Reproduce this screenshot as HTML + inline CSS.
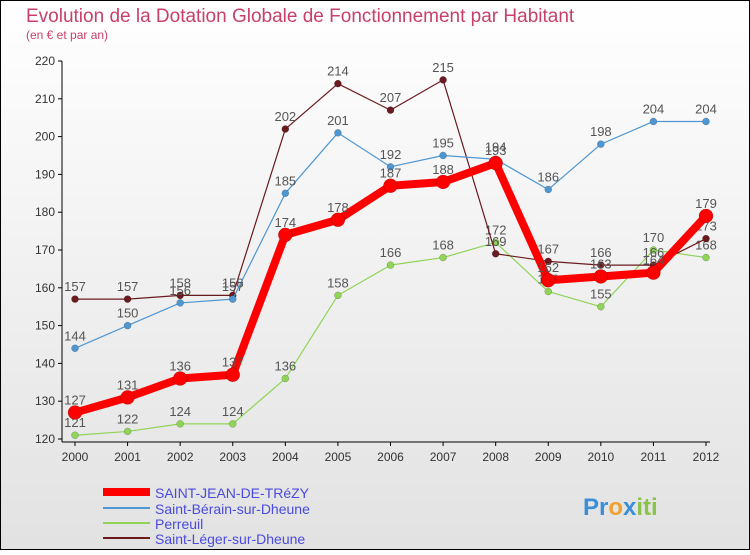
<!DOCTYPE html>
<html><head><meta charset="utf-8"><style>
body{margin:0}
#c{width:750px;height:550px;position:relative;font-family:"Liberation Sans",sans-serif;}
</style></head><body>
<div id="c">
<svg id="s" width="750" height="550" xmlns="http://www.w3.org/2000/svg">
<defs><linearGradient id="bg" x1="0" y1="0" x2="0" y2="1"><stop offset="0" stop-color="#ffffff"/><stop offset="1" stop-color="#e2e2e2"/></linearGradient></defs>
<rect x="0.5" y="0.5" width="749" height="549" fill="url(#bg)" stroke="#000"/>
<text x="26" y="22" font-size="19" fill="#c8406a">Evolution de la Dotation Globale de Fonctionnement par Habitant</text>
<text x="26" y="39" font-size="12" fill="#c8406a">(en € et par an)</text>
<g id="axes"></g><g id="series"></g>
<g>
<line x1="103" y1="492" x2="150" y2="492" stroke="#ff0000" stroke-width="8"/>
<text x="155" y="498" font-size="14" fill="#4a4adf">SAINT-JEAN-DE-TRéZY</text>
<line x1="103" y1="508" x2="150" y2="508" stroke="#4f97d2" stroke-width="2"/>
<text x="155" y="514" font-size="14" fill="#4a4adf">Saint-Bérain-sur-Dheune</text>
<line x1="103" y1="523" x2="150" y2="523" stroke="#8fd457" stroke-width="2"/>
<text x="155" y="529" font-size="14" fill="#4a4adf">Perreuil</text>
<line x1="103" y1="538" x2="150" y2="538" stroke="#6b1a1f" stroke-width="2"/>
<text x="155" y="544" font-size="14" fill="#4a4adf">Saint-Léger-sur-Dheune</text>
</g>
<text x="583" y="515" font-size="24" font-weight="bold" fill="#f0a030"><tspan fill="#3a8fd8">Pr</tspan><tspan fill="#f0a030">o</tspan><tspan fill="#3a8fd8">x</tspan><tspan fill="#8bc34a">iti</tspan></text>
</svg></div>
<script>
const years=[2000,2001,2002,2003,2004,2005,2006,2007,2008,2009,2010,2011,2012];
const yTicks=[120,130,140,150,160,170,180,190,200,210,220];
const sjt=[127,131,136,137,174,178,187,188,193,162,163,164,179];
const berain=[144,150,156,157,185,201,192,195,194,186,198,204,204];
const perreuil=[121,122,124,124,136,158,166,168,172,159,155,170,168];
const leger=[157,157,158,158,202,214,207,215,169,167,166,166,173];
const NS="http://www.w3.org/2000/svg";
const X0=75,X1=706,Y0=439,Y1=61;
function xs(i){return X0+(X1-X0)*i/(years.length-1);}
function ys(v){return Y0-(v-120)*(Y0-Y1)/100;}
function mk(tag,attrs,parent){const e=document.createElementNS(NS,tag);for(const k in attrs)e.setAttribute(k,attrs[k]);parent.appendChild(e);return e;}
const ax=document.getElementById('axes');
let l=mk('line',{x1:62,y1:Y1,x2:62,y2:Y0+3,stroke:'#000'},ax);


l=mk('line',{x1:62,y1:Y0+3,x2:X1+4,y2:Y0+3,stroke:'#000'},ax);


yTicks.forEach(v=>{
 mk('line',{x1:58,y1:ys(v),x2:62,y2:ys(v),stroke:'#000'},ax);
 const t=mk('text',{x:55,y:ys(v)+4,'font-size':12,fill:'#333','text-anchor':'end'},ax);t.textContent=v;
 
 
});
years.forEach((y,i)=>{
 mk('line',{x1:xs(i),y1:Y0+3,x2:xs(i),y2:Y0+7,stroke:'#000'},ax);
 const t=mk('text',{x:xs(i),y:Y0+22,'font-size':12,fill:'#333','text-anchor':'middle'},ax);t.textContent=y;
 
 
});
const sg=document.getElementById('series');
function draw(data,color,w,r,name){
 const g=mk('g',{},sg);
 
 
 const p=mk('polyline',{points:data.map((v,i)=>xs(i)+','+ys(v)).join(' '),fill:'none',stroke:color,'stroke-width':w,'stroke-linejoin':'round'},g);
 
 
 data.forEach((v,i)=>{
  const c=mk('circle',{cx:xs(i),cy:ys(v),r:r,fill:color,stroke:'rgba(0,0,0,0.3)','stroke-width':0.5},g);
  
  
  const t=mk('text',{x:xs(i),y:ys(v)-8,'font-size':13,fill:'#555','text-anchor':'middle'},g);t.textContent=v;
  
  
 });
}
draw(perreuil,'#8fd457',1.2,3.5,'series-perreuil');
draw(leger,'#6b1a1f',1.2,3.5,'series-saint-leger');
draw(berain,'#4f97d2',1.2,3.5,'series-saint-berain');
draw(sjt,'#ff0000',8,7,'series-saint-jean');
</script>
</body></html>
